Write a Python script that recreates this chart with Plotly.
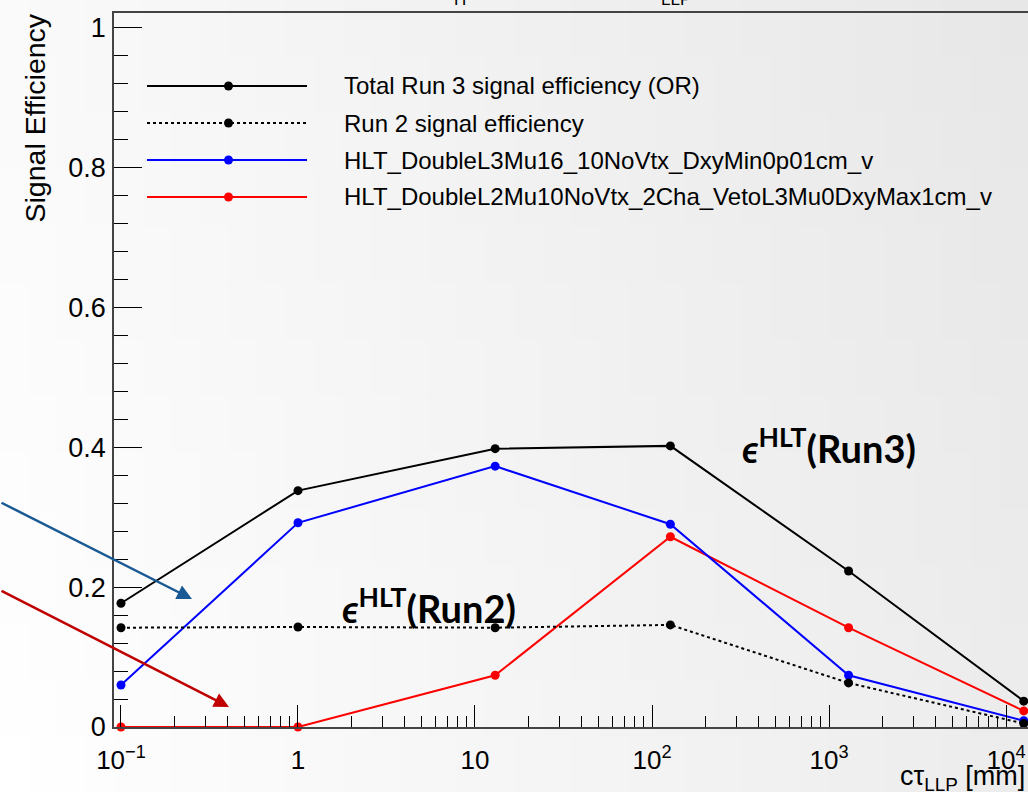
import plotly.graph_objects as go

# ---- data ----
ctau = [0.1, 1, 13, 127, 1290, 12600]
eff_total_run3 = [0.177, 0.338, 0.398, 0.402, 0.223, 0.037]
eff_run2 = [0.142, 0.143, 0.142, 0.146, 0.063, 0.005]
eff_l3mu16 = [0.060, 0.292, 0.373, 0.290, 0.074, 0.009]
eff_l2mu10 = [0.000, 0.000, 0.074, 0.272, 0.142, 0.023]

series_names = [
    "Total Run 3 signal efficiency (OR)",
    "Run 2 signal efficiency",
    "HLT_DoubleL3Mu16_10NoVtx_DxyMin0p01cm_v",
    "HLT_DoubleL2Mu10NoVtx_2Cha_VetoL3Mu0DxyMax1cm_v",
]
x_tickvals = [0.1, 1, 10, 100, 1000, 10000]
x_ticktext = ["10<sup>\u22121</sup>", "1", "10", "10<sup>2</sup>", "10<sup>3</sup>", "10<sup>4</sup>"]
y_tickvals = [0, 0.2, 0.4, 0.6, 0.8, 1.0]
y_ticktext = ["0", "0.2", "0.4", "0.6", "0.8", "1"]

# ---- layout geometry (pixels) ----
W, H = 1028, 792
L, R, T, B = 114, 0, 13, 65
PW = W - L - R
PH = H - T - B


def px(x):
    return (x - L) / PW


def py(y):
    return (H - B - y) / PH


FONT = "Liberation Sans, Arial, Helvetica, sans-serif"

styles = [
    dict(color="black", dash="solid"),
    dict(color="black", dash="3px,3px"),
    dict(color="#0000ff", dash="solid"),
    dict(color="#ff0000", dash="solid"),
]
series = [eff_total_run3, eff_run2, eff_l3mu16, eff_l2mu10]

fig = go.Figure()
for vals, st, name in reversed(list(zip(series, styles, series_names))):
    fig.add_trace(go.Scatter(
        x=ctau, y=vals, mode="lines+markers", name=name,
        line=dict(color=st["color"], width=2, dash=st["dash"]),
        marker=dict(color=st["color"], size=9),
        showlegend=False, cliponaxis=False,
    ))

shapes = []
# background gradient
NX, NY = 36, 14
x0p, x1p = px(0), px(W)
y0p, y1p = py(H), py(0)
for i in range(NX):
    for j in range(NY):
        u = (i + 0.5) / NX
        v = (j + 0.5) / NY  # 0 at top
        c = int(round(255 - 24 * (0.78 * u + 0.22 * (1 - v))))
        shapes.append(dict(
            type="rect", xref="paper", yref="paper", layer="below",
            x0=x0p + (x1p - x0p) * i / NX, x1=x0p + (x1p - x0p) * (i + 1) / NX + 0.002,
            y1=y1p - (y1p - y0p) * j / NY, y0=y1p - (y1p - y0p) * (j + 1) / NY - 0.002,
            line=dict(width=0), fillcolor=f"rgb({c},{c},{c})",
        ))

# legend (drawn manually)
leg_y = [86, 123, 160, 197]
annotations = []
for yy, st, name in zip(leg_y, styles, series_names):
    shapes.append(dict(type="line", xref="paper", yref="paper",
                       x0=px(147), x1=px(307), y0=py(yy), y1=py(yy),
                       line=dict(color=st["color"], width=2, dash=st["dash"])))
    shapes.append(dict(type="circle", xref="paper", yref="paper",
                       x0=px(224), x1=px(233), y0=py(yy + 4.5), y1=py(yy - 4.5),
                       line=dict(color=st["color"], width=0), fillcolor=st["color"]))
    annotations.append(dict(x=px(342), y=py(yy), xref="paper", yref="paper",
                            text=name, showarrow=False, xanchor="left", yanchor="middle",
                            font=dict(family=FONT, size=24, color="black")))

# axis titles
annotations.append(dict(x=px(34), y=py(12), xref="paper", yref="paper",
                        text="Signal Efficiency", textangle=-90, showarrow=False,
                        xanchor="center", yanchor="top",
                        font=dict(family=FONT, size=28.5, color="black")))
annotations.append(dict(x=px(898), y=py(778), xref="paper", yref="paper",
                        text="c\u03c4<sub>LLP</sub> [mm]", showarrow=False,
                        xanchor="left", yanchor="middle",
                        font=dict(family=FONT, size=27, color="black")))

# partially visible title pieces at top
annotations.append(dict(x=px(460), y=py(11), xref="paper", yref="paper", text="H",
                        showarrow=False, xanchor="center", yanchor="bottom",
                        font=dict(family=FONT, size=17, color="black")))
annotations.append(dict(x=px(676), y=py(11), xref="paper", yref="paper", text="LLP",
                        showarrow=False, xanchor="center", yanchor="bottom",
                        font=dict(family=FONT, size=17, color="black")))

# slide labels
LBL_FONT = "Lato, Open Sans, sans-serif"
annotations.append(dict(x=px(740), y=py(446), xref="paper", yref="paper",
                        text="<b><i>\u03f5</i><sup>HLT</sup>(Run3)</b>", showarrow=False,
                        xanchor="left", yanchor="middle",
                        font=dict(family=LBL_FONT, size=38, color="black")))
annotations.append(dict(x=px(340), y=py(606), xref="paper", yref="paper",
                        text="<b><i>\u03f5</i><sup>HLT</sup>(Run2)</b>", showarrow=False,
                        xanchor="left", yanchor="middle",
                        font=dict(family=LBL_FONT, size=38, color="black")))

# arrows
annotations.append(dict(x=px(192), y=py(599), xref="paper", yref="paper",
                        ax=-192, ay=-97, showarrow=True, arrowhead=2, arrowsize=1.2,
                        arrowwidth=2.5, arrowcolor="#1a5a94", text=""))
annotations.append(dict(x=px(229), y=py(707), xref="paper", yref="paper",
                        ax=-229, ay=-117, showarrow=True, arrowhead=2, arrowsize=1.2,
                        arrowwidth=2.5, arrowcolor="#c00000", text=""))

minor_x = [m * 10 ** e for e in range(-1, 4) for m in range(2, 10)]

fig.update_layout(
    width=W, height=H,
    margin=dict(l=L, r=R, t=T, b=B, pad=0),
    paper_bgcolor="rgba(0,0,0,0)", plot_bgcolor="rgba(0,0,0,0)",
    shapes=shapes, annotations=annotations, showlegend=False,
    xaxis=dict(
        type="log", range=[-1.0395, 4.1243],
        tickmode="array", tickvals=x_tickvals, ticktext=x_ticktext,
        ticks="inside", ticklen=22, tickwidth=1, tickcolor="black",
        minor=dict(tickmode="array", tickvals=minor_x, ticks="inside", ticklen=11,
                   tickwidth=1, tickcolor="black"),
        showline=True, linecolor="#444", linewidth=1.5, mirror=True,
        showgrid=False, zeroline=False,
        tickfont=dict(family=FONT, size=26, color="black"),
        ticklabelstandoff=9,
    ),
    yaxis=dict(
        range=[0, 1.021],
        tickmode="array", tickvals=y_tickvals, ticktext=y_ticktext,
        ticks="inside", ticklen=28, tickwidth=1, tickcolor="black",
        minor=dict(dtick=0.04, tick0=0, ticks="inside", ticklen=14, tickwidth=1,
                   tickcolor="black"),
        showline=True, linecolor="#444", linewidth=1.5, mirror=False,
        showgrid=False, zeroline=False,
        tickfont=dict(family=FONT, size=27, color="black"),
        ticklabelstandoff=1,
    ),
)

fig.write_html("out.html")
